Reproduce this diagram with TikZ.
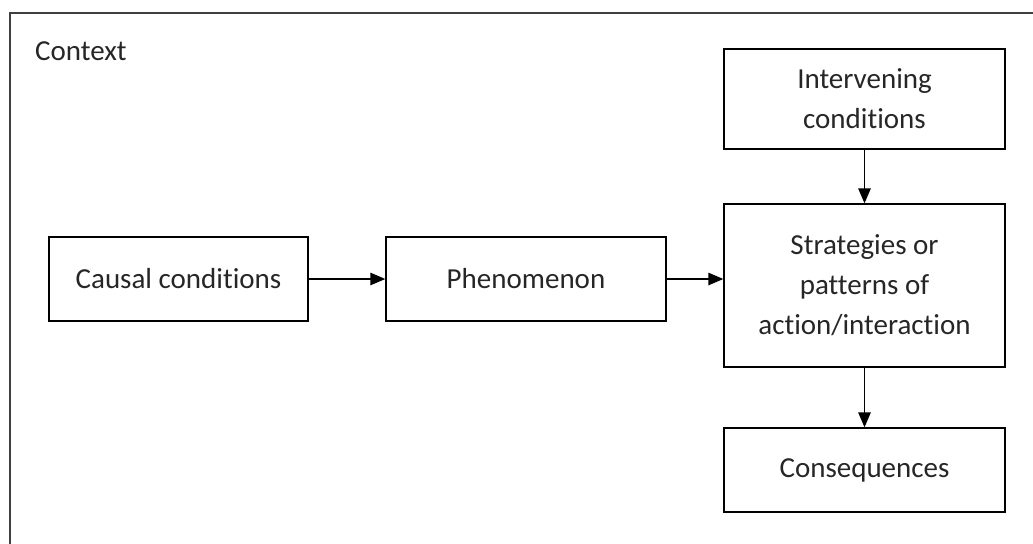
\documentclass[tikz,border=0pt]{standalone}
\usepackage{fontspec}
\setmainfont{Carlito}[RawFeature=-liga]
\usetikzlibrary{arrows.meta}

\begin{document}
\begin{tikzpicture}[
		box/.style={draw=black,line width=0.8pt,text=black!85,align=center,inner sep=0pt},
		link/.style={line width=0.8pt,-{Triangle[length=0.3cm,width=0.25cm]}},
		font=\fontsize{16.5}{22.8}\selectfont]
		\useasboundingbox (0,0) rectangle (20.66,-10.88);
		\clip (0,0) rectangle (20.66,-10.88);
		% outer frame, runs off the page at right and bottom
		\draw[line width=1.1pt,draw=black!75] (0.2,-0.26) rectangle (21.5,-11.5);
		\node[anchor=base west,text=black!85] (ctx) at (0.58,-1.2) {Context};

		\node[box,minimum width=5.18cm,minimum height=1.68cm] (causal) at (3.57,-5.58) {Causal conditions};
		\node[box,minimum width=5.6cm,minimum height=1.68cm] (phen) at (10.52,-5.58) {Phenomenon};
		\node[box,minimum width=5.62cm,minimum height=2.0cm] (interv) at (17.29,-1.98) {Intervening\\conditions};
		\node[box,minimum width=5.62cm,minimum height=3.26cm] (strat) at (17.29,-5.71) {Strategies or\\patterns of\\action/interaction};
		\node[box,minimum width=5.62cm,minimum height=1.68cm] (conseq) at (17.29,-9.4) {Consequences};

		\draw[link] (causal) -- (phen);
		\draw[link] (phen.east) -- (phen.east -| strat.west);
		\draw[link] (interv) -- (strat);
		\draw[link] (strat) -- (conseq);
	\end{tikzpicture}
\end{document}
